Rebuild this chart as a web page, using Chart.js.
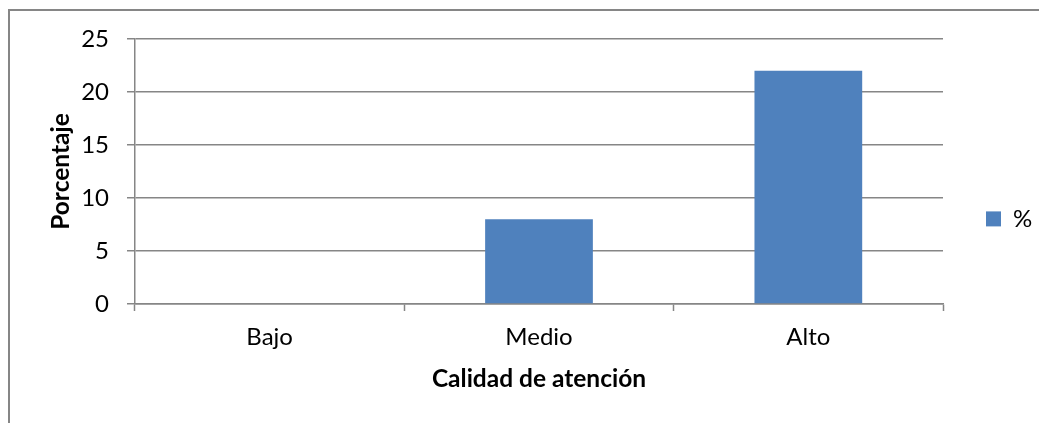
<!DOCTYPE html>
<html>
<head>
<meta charset="utf-8">
<script src="https://cdn.jsdelivr.net/npm/chart.js@4/dist/chart.umd.min.js"></script>
<style>
    html, body { margin: 0; padding: 0; background: #fff; }
    #wrap { position: relative; width: 1039px; height: 423px; overflow: hidden; }
    #frame { position: absolute; left: 8px; top: 9px; width: 1100px; height: 500px; border: 2px solid #868686; pointer-events: none; }
</style>
</head>
<body>
<div id="wrap">
    <canvas id="myChart" width="1039" height="423"></canvas>
    <div id="frame"></div>
</div>
<script>
const categories = ['Bajo', 'Medio', 'Alto'];
const percentValues = [0, 8, 22];
const seriesLabel = '%';
const yTickValues = [0, 5, 10, 15, 20, 25];
const xTitle = 'Calidad de atención';
const yTitle = 'Porcentaje';

const gridColor = '#868686';
const barColor = '#4F81BD';
const fontFamily = 'Lato, "Open Sans", sans-serif';

document.addEventListener('DOMContentLoaded', function () {
    const ctx = document.getElementById('myChart');
    makeChart(ctx);
});

function makeChart(ctx) {
    return new Chart(ctx, {
        type: 'bar',
        data: {
            labels: categories,
            datasets: [{
                label: seriesLabel,
                data: percentValues,
                backgroundColor: barColor,
                borderWidth: 0,
                barPercentage: 0.4,
                categoryPercentage: 1.0
            }]
        },
        options: {
            responsive: false,
            animation: false,
            layout: { padding: { top: 39, left: 0, right: 0, bottom: 0 } },
            plugins: {
                tooltip: { enabled: false },
                legend: {
                    position: 'right',
                    fullSize: false,
                    maxWidth: 96,
                    // empty title only pushes the single entry down a bit
                    title: { display: true, text: ' ', padding: { top: 33, bottom: 33 }, font: { size: 24, family: fontFamily } },
                    labels: {
                        boxWidth: 15,
                        boxHeight: 15,
                        padding: 43,
                        color: '#000',
                        font: { size: 24, family: fontFamily }
                    }
                }
            },
            scales: {
                x: {
                    grid: {
                        display: true,
                        offset: true,
                        drawOnChartArea: false,
                        drawTicks: true,
                        tickLength: 7,
                        tickColor: gridColor,
                        tickWidth: 1.5
                    },
                    border: { display: true, color: gridColor, width: 1.5 },
                    ticks: {
                        color: '#000',
                        padding: 12,
                        font: { size: 24, family: fontFamily }
                    },
                    title: {
                        display: true,
                        text: xTitle,
                        color: '#000',
                        padding: { top: 0, bottom: 29 },
                        font: { size: 24.5, weight: 'bold', family: fontFamily }
                    },
                    afterFit: function (scale) { scale.height = 119; }
                },
                y: {
                    min: 0,
                    max: 25,
                    afterBuildTicks: function (scale) {
                        scale.ticks = yTickValues.map(v => ({ value: v }));
                    },
                    grid: {
                        color: gridColor,
                        lineWidth: 1.5,
                        drawTicks: true,
                        tickLength: 8
                    },
                    border: { display: true, color: gridColor, width: 1.5 },
                    ticks: {
                        color: '#000',
                        padding: 18,
                        font: { size: 24, family: fontFamily }
                    },
                    title: {
                        display: true,
                        text: yTitle,
                        color: '#000',
                        padding: { top: 46, bottom: 0 },
                        font: { size: 24.5, weight: 'bold', family: fontFamily }
                    },
                    afterFit: function (scale) { scale.width = 135; }
                }
            }
        }
    });
}
</script>
</body>
</html>
